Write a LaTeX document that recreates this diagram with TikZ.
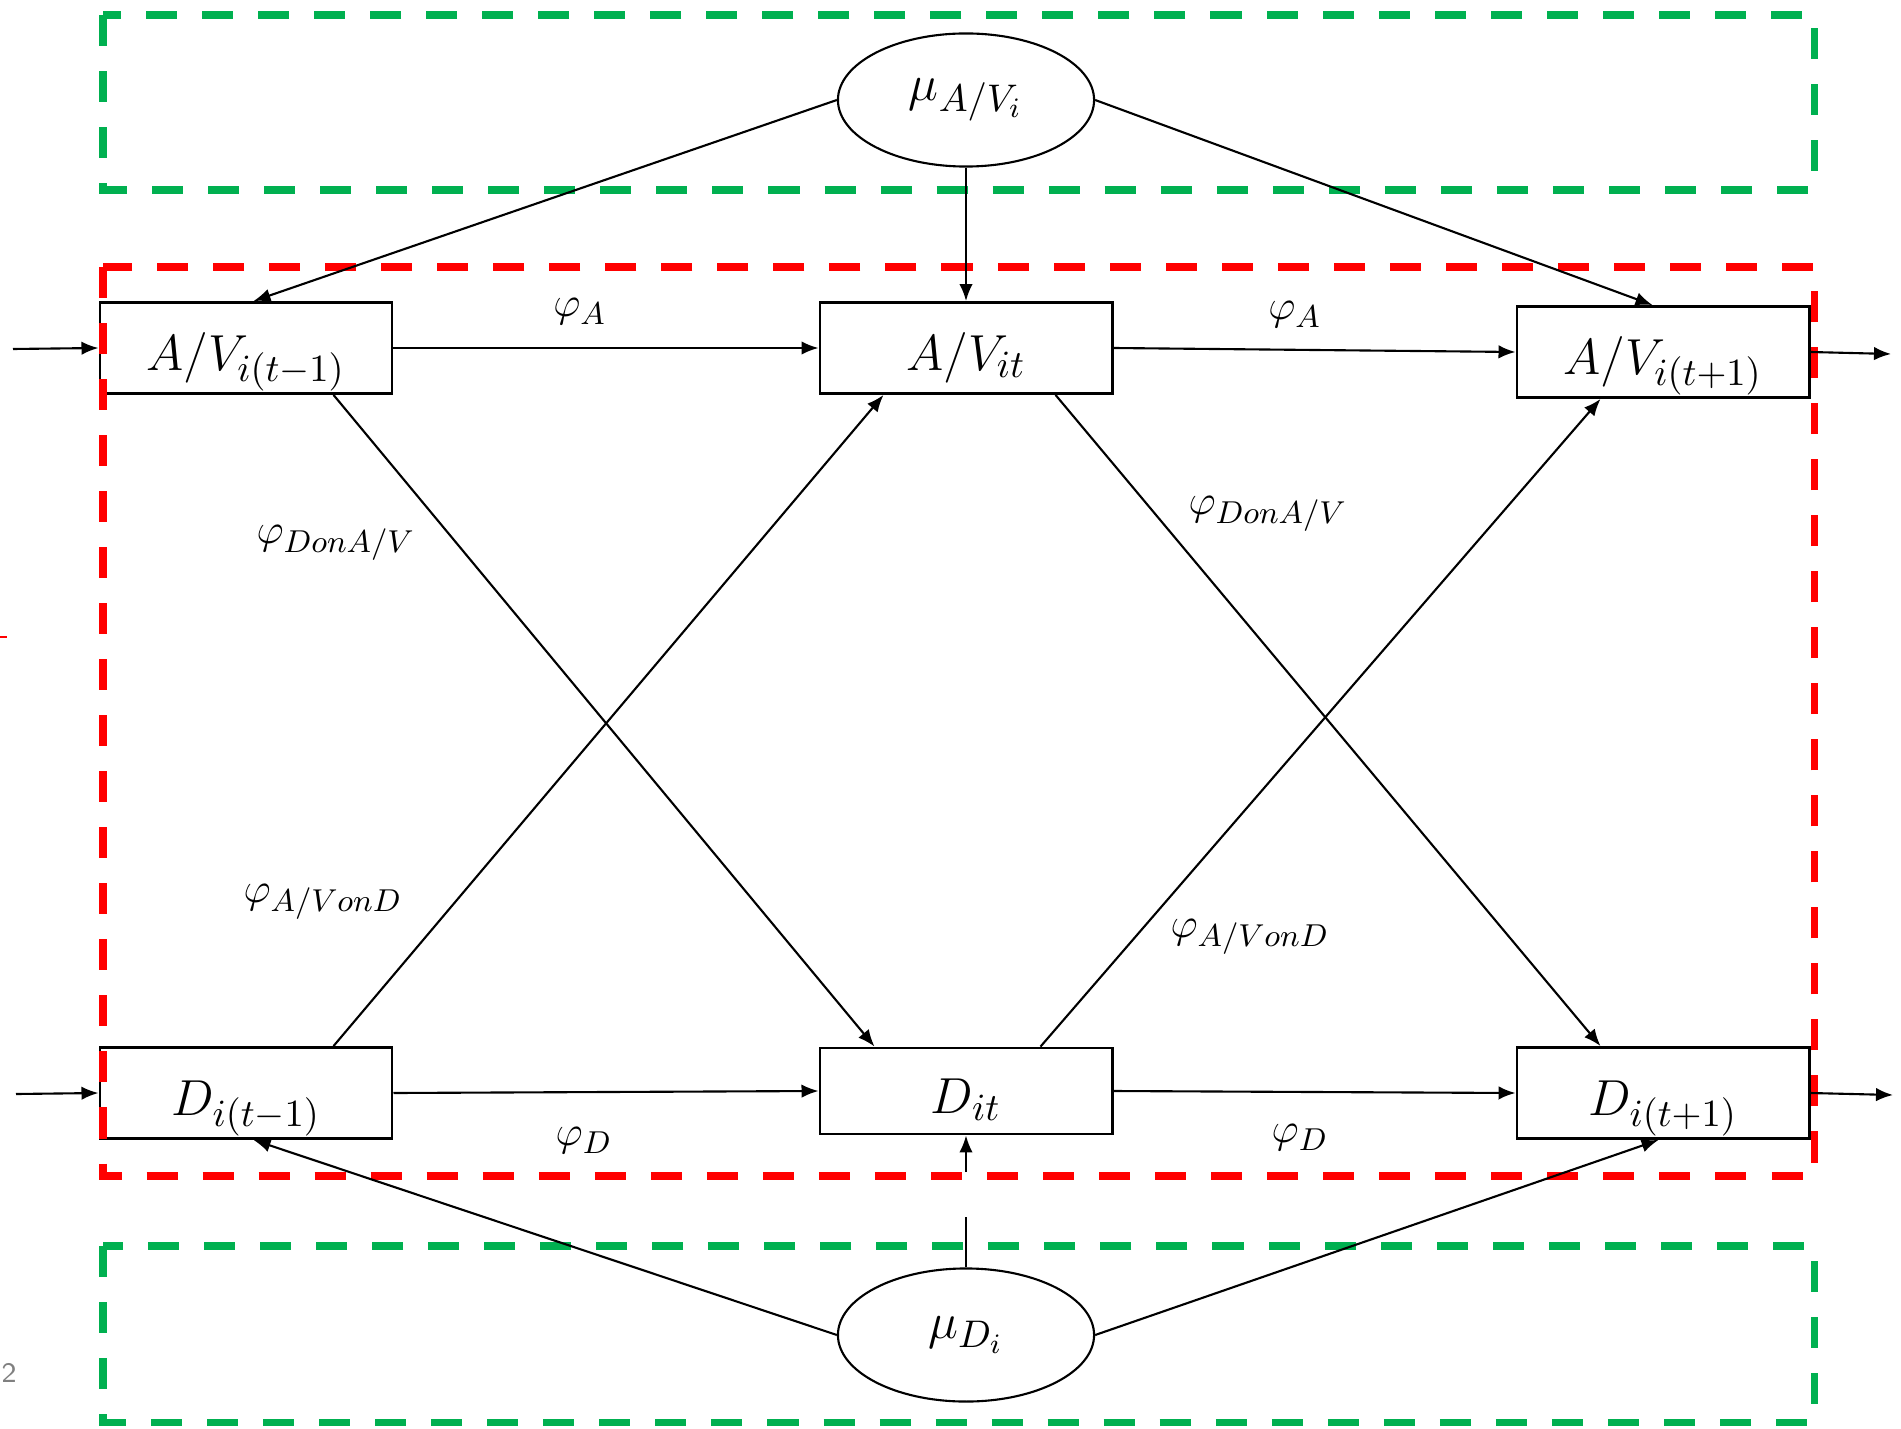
\documentclass[tikz,border=0pt]{standalone}
\usetikzlibrary{arrows.meta,shapes.geometric,calc}
\definecolor{grn}{RGB}{0,176,80}
\definecolor{rd}{RGB}{255,0,0}
\begin{document}
\begin{tikzpicture}[x=0.01cm,y=-0.01cm,
  box/.style={draw, line width=0.8pt, minimum width=2.92cm, minimum height=0.91cm, inner sep=0pt, text height=0.52cm, text depth=0.08cm, font=\fontsize{15}{18}\selectfont},
  oval/.style={draw, ellipse, line width=0.6pt, minimum width=2.56cm, minimum height=1.33cm, inner sep=0pt, font=\fontsize{15.5}{18}\selectfont},
  conn/.style={line width=0.6pt, -{Latex[length=1.7mm,width=1.35mm]}},
  plain/.style={line width=0.6pt},
  lbl/.style={font=\fontsize{13}{16}\selectfont, inner sep=0pt},
  gframe/.style={draw=grn, line width=2pt, dash pattern=on 0.31cm off 0.25cm},
  rframe/.style={draw=rd, line width=2pt, dash pattern=on 0.31cm off 0.25cm},
]
\useasboundingbox (0,0) rectangle (1901,1428);

% nodes
\node[box] (av1) at (246,348) {$A/V_{i(t-1)}$};
\node[box] (av2) at (966,348) {$A/V_{it}$};
\node[box] (av3) at (1663,352) {$A/V_{i(t+1)}$};
\node[box] (d1) at (246,1093) {$D_{i(t-1)}$};
\node[box, minimum height=0.86cm] (d2) at (966,1091) {$D_{it}$};
\node[box] (d3) at (1663,1093) {$D_{i(t+1)}$};
\node[oval] (mua) at (966,100) {$\mu_{A/V_i}$};
\node[oval] (mud) at (966,1335) {$\mu_{D_i}$};

% frames
\draw[gframe] (103,15) rectangle (1814,190);
\draw[rframe] (103,267) rectangle (1814,1176);
\draw[gframe] (103,1246) rectangle (1814,1422);

% free ends
\coordinate (in1) at (13,349);
\coordinate (in2) at (16,1094);
\coordinate (out1) at (1891,354);
\coordinate (out2) at (1893,1095);
\coordinate (gapA) at (966,1217);
\coordinate (gapB) at (966,1172);

% connectors
\draw[conn] (in1) -- (av1.west);
\draw[conn] (in2) -- (d1.west);
\draw[conn] (av3.east) -- (out1);
\draw[conn] (d3.east) -- (out2);
\draw[conn] (av1.east) -- (av2.west);
\draw[conn] (av2.east) -- (av3.west);
\draw[conn] (d1.east) -- (d2.west);
\draw[conn] (d2.east) -- (d3.west);

\draw[conn] (mua.west) -- ($(av1.north west)+(155,0)$);
\draw[conn] (mua.south) -- (av2.north);
\draw[conn] (mua.east) -- ($(av3.north west)+(137,0)$);

\draw[conn] (mud.west) -- ($(d1.south west)+(155,0)$);
\draw[conn] (mud.east) -- ($(d3.south west)+(143,0)$);
\draw[plain] (mud.north) -- (gapA);
\draw[conn] (gapB) -- (d2.south);

\draw[conn] ($(av1.south west)+(235,0)$) -- ($(d2.north west)+(56,0)$);
\draw[conn] ($(d1.north west)+(235,0)$) -- ($(av2.south west)+(65,0)$);
\draw[conn] ($(av2.south west)+(237,0)$) -- ($(d3.north west)+(85,0)$);
\draw[conn] ($(d2.north west)+(222,0)$) -- ($(av3.south west)+(85,0)$);

% labels
\node[lbl] (la1) at (580,312) {$\varphi_A$};
\node[lbl] (la2) at (1295,315) {$\varphi_A$};
\node[lbl] (ld1) at (584,1141) {$\varphi_D$};
\node[lbl] (ld2) at (1300,1138) {$\varphi_D$};
\node[lbl] (lda1) at (336,543) {$\varphi_{DonA/V}$};
\node[lbl] (lad1) at (323,902) {$\varphi_{A/VonD}$};
\node[lbl] (lda2) at (1268,514) {$\varphi_{DonA/V}$};
\node[lbl] (lad2) at (1250,937) {$\varphi_{A/VonD}$};

% stray marks
\draw[rd, line width=0.7pt] (0,637) -- (7,637);
\node[text=gray, font=\sffamily\fontsize{8}{10}\selectfont, inner sep=0pt, anchor=west] (pg) at (1,1373) {2};
\end{tikzpicture}
\end{document}
